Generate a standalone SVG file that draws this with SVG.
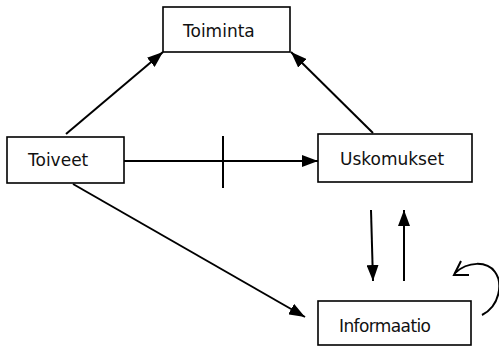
<svg xmlns="http://www.w3.org/2000/svg" width="499" height="348" viewBox="0 0 499 348">
  <style>
    .box { fill: #ffffff; stroke: #000000; stroke-width: 1.6; }
    .label { font-family: "DejaVu Sans", "Liberation Sans", sans-serif; font-size: 17px; fill: #111111; }
    .link { fill: none; stroke: #000000; stroke-width: 2; }
  </style>
  <defs>
    <marker id="head" viewBox="0 0 16 12" refX="16" refY="6" markerWidth="16" markerHeight="12" markerUnits="userSpaceOnUse" orient="auto">
      <path d="M0,0 L16,6 L0,12 Z" fill="#000000"/>
    </marker>
  </defs>

  <g id="connectors">
    <!-- Toiveet -> Toiminta -->
    <line class="link" x1="66" y1="134" x2="163" y2="52" marker-end="url(#head)"/>
    <!-- Uskomukset -> Toiminta -->
    <line class="link" x1="373" y1="133" x2="291" y2="52" marker-end="url(#head)"/>
    <!-- Toiveet -> Uskomukset, crossed -->
    <line class="link" x1="124" y1="161" x2="318" y2="161" marker-end="url(#head)"/>
    <line class="link" x1="223" y1="136" x2="223" y2="188"/>
    <!-- Toiveet -> Informaatio -->
    <line class="link" x1="73" y1="184" x2="305" y2="317" marker-end="url(#head)"/>
    <!-- Uskomukset <-> Informaatio -->
    <line class="link" x1="371" y1="210" x2="373" y2="281" marker-end="url(#head)"/>
    <line class="link" x1="404" y1="281" x2="404" y2="210" marker-end="url(#head)"/>
    <!-- Informaatio self loop -->
    <path class="link" d="M482,315 C500,306 503,283 495,272 C487,261 468,261 455,273"/>
    <path class="link" d="M461,261 L454,275 L469,275"/>
  </g>

  <g id="toiminta">
    <rect class="box" x="163" y="7" width="127" height="45"/>
    <text class="label" x="183" y="37">Toiminta</text>
  </g>

  <g id="toiveet">
    <rect class="box" x="7" y="137" width="117" height="46"/>
    <text class="label" x="28" y="166">Toiveet</text>
  </g>

  <g id="uskomukset">
    <rect class="box" x="318" y="134" width="154" height="48"/>
    <text class="label" x="340" y="165">Uskomukset</text>
  </g>

  <g id="informaatio">
    <rect class="box" x="318" y="301" width="153" height="44"/>
    <text class="label" x="339" y="332" textLength="92">Informaatio</text>
  </g>
</svg>
